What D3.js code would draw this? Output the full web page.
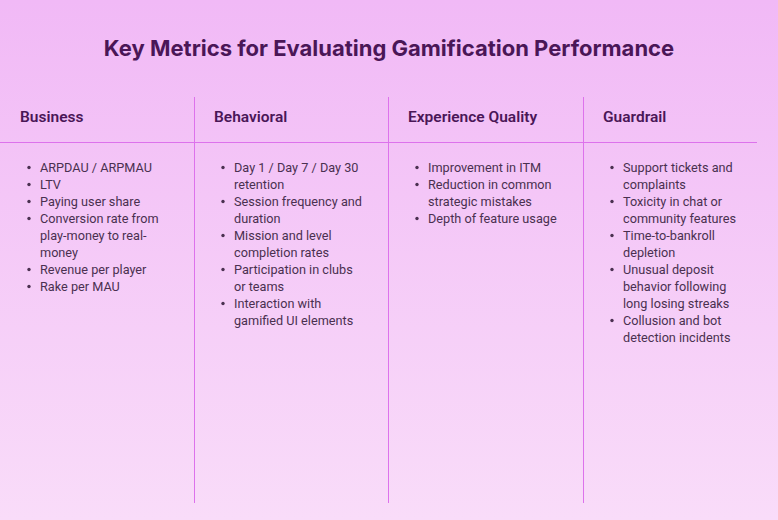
<!DOCTYPE html>
<html><head><meta charset="utf-8">
<script src="https://cdn.jsdelivr.net/npm/d3@7"></script>
<style>body{margin:0}svg{display:block}</style></head>
<body><svg id="c" width="778" height="520"></svg>
<script>
const title = "Key Metrics for Evaluating Gamification Performance";
const categories = ["Business","Behavioral","Experience Quality","Guardrail"];
const business = [["ARPDAU / ARPMAU"],["LTV"],["Paying user share"],["Conversion rate from","play-money to real-","money"],["Revenue per player"],["Rake per MAU"]];
const behavioral = [["Day 1 / Day 7 / Day 30","retention"],["Session frequency and","duration"],["Mission and level","completion rates"],["Participation in clubs","or teams"],["Interaction with","gamified UI elements"]];
const experience = [["Improvement in ITM"],["Reduction in common","strategic mistakes"],["Depth of feature usage"]];
const guardrail = [["Support tickets and","complaints"],["Toxicity in chat or","community features"],["Time-to-bankroll","depletion"],["Unusual deposit","behavior following","long losing streaks"],["Collusion and bot","detection incidents"]];
const items = [business, behavioral, experience, guardrail];

const svg = d3.select("#c");
const defs = svg.append("defs");
const g = defs.append("linearGradient").attr("id","bg").attr("x1",0).attr("y1",0).attr("x2",0).attr("y2",1);
g.append("stop").attr("offset","0%").attr("stop-color","#f1b9f6");
g.append("stop").attr("offset","100%").attr("stop-color","#f9dcf9");
svg.append("rect").attr("width",778).attr("height",520).attr("fill","url(#bg)");

svg.append("text").attr("x",389).attr("y",56).attr("text-anchor","middle")
  .attr("font-family","Inter, Roboto, sans-serif").attr("font-weight",700).attr("font-size",22)
  .attr("fill","#4a1657").text(title);

const bounds = [0,194,388,583];
const col = d3.scaleOrdinal().domain(categories).range(bounds);
const lineColor = "#dd72ec";
svg.append("line").attr("x1",0).attr("x2",757).attr("y1",142.5).attr("y2",142.5).attr("stroke",lineColor);
svg.selectAll("line.v").data(categories.slice(1)).join("line").attr("class","v")
  .attr("x1",d=>col(d)+0.5).attr("x2",d=>col(d)+0.5).attr("y1",97).attr("y2",503).attr("stroke",lineColor);

categories.forEach((c,i)=>{
  const x0 = col(c);
  svg.append("text").attr("x",x0+20).attr("y",122).attr("font-family","Roboto, sans-serif")
    .attr("font-weight",600).attr("font-size",15.5).attr("fill","#4a1657").text(c);
  let y = 172;
  items[i].forEach(lines=>{
    svg.append("circle").attr("cx",x0+29).attr("cy",y-4.5).attr("r",1.7).attr("fill","#4a3050");
    lines.forEach(l=>{
      svg.append("text").attr("x",x0+40).attr("y",y).attr("font-family","Roboto, sans-serif")
        .attr("font-size",12.7).attr("fill","#4a3050").text(l);
      y += 17;
    });
  });
});
</script></body></html>
